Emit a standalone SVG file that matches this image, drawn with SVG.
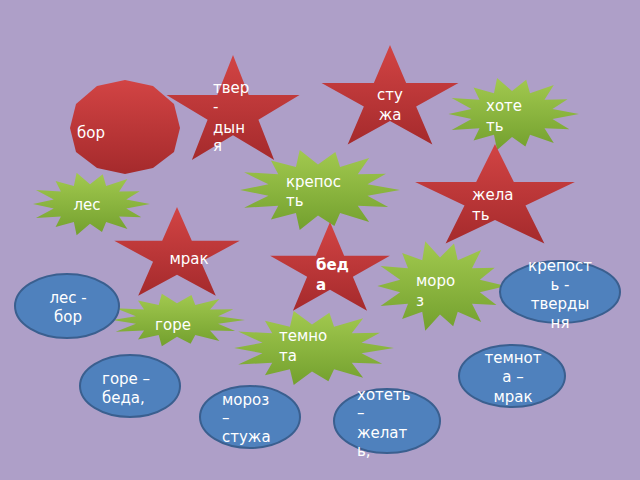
<svg xmlns="http://www.w3.org/2000/svg" width="640" height="480" viewBox="0 0 640 480">
<defs>
<linearGradient id="rg" x1="0" y1="0" x2="0" y2="1"><stop offset="0" stop-color="#d24444"/><stop offset="1" stop-color="#a52a2c"/></linearGradient>
<linearGradient id="gg" x1="0" y1="0" x2="0" y2="1"><stop offset="0" stop-color="#a2c94f"/><stop offset="1" stop-color="#73a02e"/></linearGradient>
<polygon id="star" points="0,-100 22.45,-30.9 95.1,-30.9 36.3,11.8 58.8,80.9 0,38.2 -58.8,80.9 -36.3,11.8 -95.1,-30.9 -22.45,-30.9"/>
<polygon id="burst" points="100,0 60.4,13.8 85.6,41.2 48.5,38.7 62.4,78.2 26.9,55.9 20,87.7 0,62 -22.3,97.5 -26.9,55.9 -57.4,71.9 -48.5,38.7 -90.1,43.4 -60.4,13.8 -95,0 -60.4,-13.8 -90.1,-43.4 -48.5,-38.7 -57.4,-71.9 -26.9,-55.9 -22.3,-97.5 0,-62 21.2,-92.6 26.9,-55.9 62.4,-78.2 48.5,-38.7 82.9,-39.9 60.4,-13.8"/>
</defs>
<style>
.r{fill:url(#rg)}
.g{fill:url(#gg)}
.e{fill:#4f81bd;stroke:#3a5f8f;stroke-width:2}
text{font-family:"DejaVu Sans",sans-serif;font-size:15px;fill:#fff}
.c{text-anchor:middle}
</style>
<rect width="640" height="480" fill="#ae9fc8"/>
<g id="bor"><polygon class="r" points="125,80 153,86 174,104 180,128 174,152 153,168 125,174 97,168 76,152 70,128 76,104 97,86"/><text x="77" y="138">бор</text></g>
<g id="tverdynya"><use href="#star" class="r" transform="translate(233,113) scale(0.70,0.58)"/><text x="213" y="93">твер</text><text x="213" y="112">-</text><text x="213" y="133">дын</text><text x="213" y="151">я</text></g>
<g id="stuzha"><use href="#star" class="r" transform="translate(390,100) scale(0.72,0.55)"/><text class="c" x="390" y="100">сту</text><text class="c" x="390" y="120">жа</text></g>
<g id="hotet"><use href="#burst" class="g" transform="translate(512,114) scale(0.67,0.37)"/><text x="486" y="111">хоте</text><text x="486" y="131">ть</text></g>
<g id="krepost"><use href="#burst" class="g" transform="translate(318,190) scale(0.82,0.41)"/><text x="286" y="187">крепос</text><text x="286" y="206">ть</text></g>
<g id="les"><use href="#burst" class="g" transform="translate(90,204) scale(0.60,0.32)"/><text class="c" x="87" y="210">лес</text></g>
<g id="zhelat"><use href="#star" class="r" transform="translate(495,199) scale(0.84,0.55)"/><text x="472" y="200">жела</text><text x="472" y="220">ть</text></g>
<g id="mrak"><use href="#star" class="r" transform="translate(177,256) scale(0.66,0.49)"/><text class="c" x="189" y="264">мрак</text></g>
<g id="beda"><use href="#star" class="r" transform="translate(330,271) scale(0.63,0.49)"/><text x="316" y="270" font-weight="bold">бед</text><text x="316" y="290" font-weight="bold">а</text></g>
<g id="moroz"><use href="#burst" class="g" transform="translate(440,286) scale(0.66,0.46)"/><text x="416" y="286">моро</text><text x="416" y="306">з</text></g>
<g id="gore"><use href="#burst" class="g" transform="translate(177,320) scale(0.68,0.27)"/><text class="c" x="173" y="330">горе</text></g>
<g id="temnota"><use href="#burst" class="g" transform="translate(312,348) scale(0.82,0.38)"/><text x="279" y="341">темно</text><text x="279" y="361">та</text></g>
<g id="e1"><ellipse class="e" cx="67" cy="306" rx="52" ry="32"/><text class="c" x="68" y="303">лес -</text><text class="c" x="68" y="322">бор</text></g>
<g id="e2"><ellipse class="e" cx="130" cy="386" rx="50" ry="31"/><text x="102" y="384">горе –</text><text x="102" y="403">беда,</text></g>
<g id="e3"><ellipse class="e" cx="250" cy="417" rx="50" ry="31"/><text x="222" y="405">мороз</text><text x="222" y="423">–</text><text x="222" y="442">стужа</text></g>
<g id="e4"><ellipse class="e" cx="387" cy="421" rx="53" ry="32"/><text x="357" y="400">хотеть</text><text x="357" y="418">–</text><text x="357" y="438">желат</text><text x="357" y="456">ь,</text></g>
<g id="e5"><ellipse class="e" cx="512" cy="376" rx="53" ry="31"/><text class="c" x="513" y="363">темнот</text><text class="c" x="513" y="382">а –</text><text class="c" x="513" y="402">мрак</text></g>
<g id="e6"><ellipse class="e" cx="560" cy="292" rx="60" ry="31"/><text class="c" x="560" y="271">крепост</text><text class="c" x="560" y="290">ь -</text><text class="c" x="560" y="309">тверды</text><text class="c" x="560" y="328">ня</text></g>
<g id="connectors"/>
</svg>
